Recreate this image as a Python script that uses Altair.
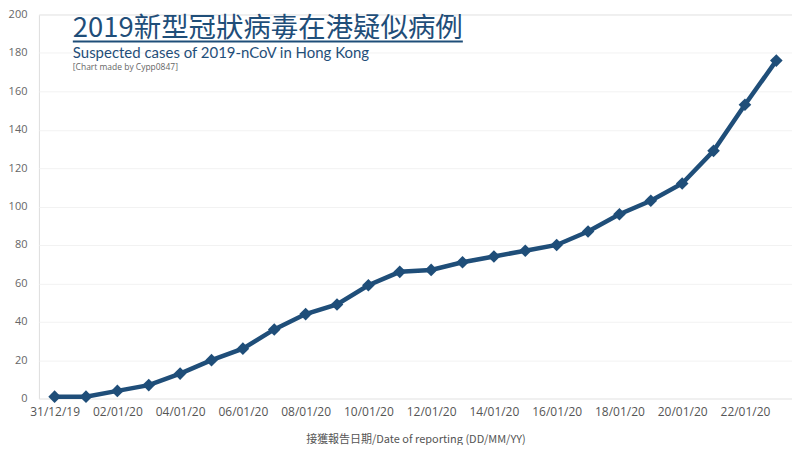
import altair as alt
import pandas as pd

dates = ["31/12/19", "01/01/20", "02/01/20", "03/01/20", "04/01/20", "05/01/20",
         "06/01/20", "07/01/20", "08/01/20", "09/01/20", "10/01/20", "11/01/20",
         "12/01/20", "13/01/20", "14/01/20", "15/01/20", "16/01/20", "17/01/20",
         "18/01/20", "19/01/20", "20/01/20", "21/01/20", "22/01/20", "23/01/20"]
cases = [1, 1, 4, 7, 13, 20, 26, 36, 44, 49, 59, 66, 67, 71, 74, 77, 80, 87,
         96, 103, 112, 129, 153, 176]
tick_labels = dates[::2]
y_ticks = [0, 20, 40, 60, 80, 100, 120, 140, 160, 180, 200]

title_zh = "2019新型冠狀病毒在港疑似病例"
title_en = "Suspected cases of 2019-nCoV in Hong Kong"
credit = "[Chart made by Cypp0847]"
x_title = "接獲報告日期/Date of reporting (DD/MM/YY)"

COLOR = "#1f4e79"

df = pd.DataFrame({"date": dates, "cases": cases})

base = alt.Chart(df).encode(
    x=alt.X("date:O", sort=dates,
            scale=alt.Scale(type="point", padding=0.5),
            axis=alt.Axis(values=tick_labels, labelAngle=0, title=x_title,
                          domain=False, ticks=False, grid=False,
                          labelColor="#555555", labelFontSize=12,
                          labelFont="Open Sans", labelPadding=8,
                          titleFont="Noto Sans CJK TC", titleFontSize=11,
                          titleFontWeight="normal", titleColor="#555555",
                          titlePadding=16)),
    y=alt.Y("cases:Q", scale=alt.Scale(domain=[0, 200]),
            axis=alt.Axis(values=y_ticks, title=None, domain=False, ticks=False,
                          gridColor="#f2f2f2", labelColor="#666666",
                          labelFontSize=11, labelFont="Open Sans",
                          labelPadding=12)),
)

line = base.mark_line(color=COLOR, strokeWidth=4.5)
points = base.mark_point(shape="diamond", filled=True, size=160, color=COLOR, opacity=1)

t1 = alt.Chart(pd.DataFrame({"t": [title_zh]})).mark_text(
    align="left", baseline="alphabetic", fontSize=27.5,
    font="Noto Sans CJK TC", color=COLOR).encode(
    text="t:N", x=alt.value(34), y=alt.value(23))
rule = alt.Chart(pd.DataFrame({"t": [title_zh]})).mark_rule(
    color=COLOR, strokeWidth=2).encode(
    x=alt.value(34), x2=alt.value(425), y=alt.value(27))
t2 = alt.Chart(pd.DataFrame({"t": [title_en]})).mark_text(
    align="left", baseline="middle", fontSize=15, font="Lato", color=COLOR).encode(
    text="t:N", x=alt.value(34), y=alt.value(39))
t3 = alt.Chart(pd.DataFrame({"t": [credit]})).mark_text(
    align="left", baseline="middle", fontSize=8.5, font="Open Sans", color="#666666").encode(
    text="t:N", x=alt.value(34), y=alt.value(53))

chart = alt.layer(line, points, t1, rule, t2, t3).properties(
    width=755, height=385, padding={"left": 0, "top": 0, "right": 0, "bottom": 0}
).configure_view(stroke=None).configure(background="white")

chart.save("out.html", embed_options={"renderer": "svg", "actions": False})
